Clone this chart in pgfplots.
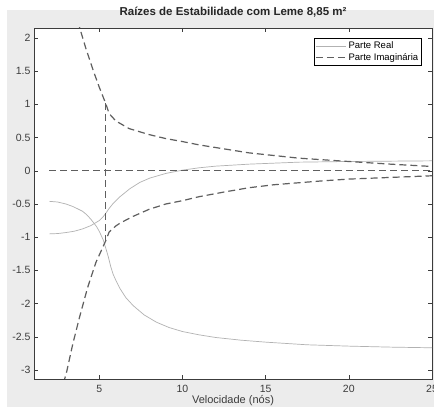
\documentclass[border=0pt]{standalone}
\usepackage{pgfplots}
\pgfplotsset{compat=1.18}
\usepackage{fontspec}
\setmainfont{Liberation Sans}

\definecolor{figbg}{RGB}{236,236,236}
\definecolor{realc}{RGB}{178,178,178}
\definecolor{imagc}{RGB}{95,95,95}
\definecolor{axc}{RGB}{60,60,60}

\begin{document}
\begin{tikzpicture}[x=1pt,y=1pt]
\useasboundingbox (0,0) rectangle (434,407);
\clip (0,0) rectangle (434,407);
\fill[white] (0,0) rectangle (434,407);
\fill[figbg] (7,0) rectangle (434,397);
\begin{axis}[
    at={(34pt,28pt)}, anchor=south west,
    scale only axis,
    width=398pt, height=351pt,
    xmin=1.08, xmax=25,
    ymin=-3.135, ymax=2.15,
    xtick={5,10,15,20,25},
    xticklabels={5,10,15,20,25},
    ytick={-3,-2.5,-2,-1.5,-1,-0.5,0,0.5,1,1.5,2},
    yticklabels={-3,-2.5,-2,-1.5,-1,-0.5,0,0.5,1,1.5,2},
    tick align=inside,
    major tick length=4pt,
    axis line style={axc, line width=0.6pt},
    every tick/.style={axc, line width=0.5pt},
    tick label style={font=\fontsize{10.5}{12}\selectfont, text=axc},
    x tick label style={yshift=-3pt},
    axis background/.style={fill=white},
    title={Raízes de Estabilidade com Leme 8,85 m²},
    title style={at={(0.5,1)}, anchor=center, yshift=10pt,
                 font=\bfseries\fontsize{11.5}{13}\selectfont, text=black!85},
    xlabel={Velocidade (nós)},
    xlabel style={at={(0.5,0)}, anchor=center, yshift=-22pt,
                  font=\fontsize{11}{13}\selectfont, text=axc},
    legend style={at={(0.975,0.9715)}, anchor=north east,
                  draw=black, line width=0.6pt, fill=white,
                  font=\fontsize{9.5}{11}\selectfont, inner sep=1.5pt,
                  row sep=-1pt},
    legend cell align=left,
    legend image code/.code={\draw[#1] (0pt,0pt) -- (30pt,0pt);},
]
% parte real
\addplot[realc, line width=0.7pt] coordinates {
 (2.0,-0.46) (2.5,-0.47) (3.0,-0.50) (3.44,-0.54) (4.0,-0.61) (4.24,-0.66)
 (4.5,-0.73) (4.84,-0.84) (5.0,-0.91) (5.24,-1.04) (5.4,-1.17) (5.54,-1.29)
 (5.7,-1.45) (5.84,-1.56) (6.0,-1.65) (6.24,-1.77) (6.6,-1.91) (7.04,-2.03)
 (7.7,-2.17) (8.44,-2.28) (9.2,-2.36) (10,-2.42) (11,-2.47) (12,-2.51)
 (13.5,-2.55) (15,-2.58) (17.5,-2.62) (20,-2.64) (22.5,-2.655) (25,-2.665)
};
\addlegendentry{Parte Real}
\addplot[realc, line width=0.7pt, forget plot] coordinates {
 (2.0,-0.95) (2.5,-0.945) (3.0,-0.93) (3.5,-0.91) (4.0,-0.875) (4.5,-0.825)
 (5.0,-0.75) (5.24,-0.69) (5.38,-0.645) (5.6,-0.565) (5.84,-0.49) (6.2,-0.40)
 (6.84,-0.27) (7.44,-0.175) (8.04,-0.11) (9.0,-0.04) (10,0.01) (11,0.045)
 (12,0.07) (14,0.10) (17,0.13) (20,0.14) (25,0.15)
};
% parte imaginaria
\addplot[imagc, line width=1.2pt, dash pattern=on 7pt off 4pt] coordinates {
 (3.72,2.25) (3.84,2.14) (4.2,1.84) (4.64,1.51) (5.0,1.26) (5.38,1.02)
 (5.6,0.86) (6.0,0.75) (6.8,0.635) (8.0,0.545) (9.0,0.485) (10,0.44)
 (11,0.39) (12.5,0.33) (14,0.27) (15.5,0.23) (17,0.19) (18.5,0.165)
 (20,0.14) (22.5,0.10) (25,0.065)
};
\addlegendentry{Parte Imaginária}
\addplot[imagc, line width=1.2pt, dash pattern=on 7pt off 4pt, forget plot] coordinates {
 (2.85,-3.2) (3.04,-3.03) (3.4,-2.62) (3.8,-2.22) (4.3,-1.76) (4.8,-1.38)
 (5.38,-1.06) (5.6,-0.92) (6.0,-0.83) (6.24,-0.79) (7.0,-0.69) (8.0,-0.58)
 (9.0,-0.50) (10,-0.45) (11,-0.39) (12.5,-0.32) (14,-0.255) (15.5,-0.21)
 (17,-0.18) (18.5,-0.15) (20,-0.125) (22.5,-0.10) (25,-0.075)
};
\addplot[imagc, line width=1.2pt, dash pattern=on 7pt off 4pt, forget plot] coordinates {
 (2.0,0) (25,0)
};
\addplot[imagc, line width=1.2pt, dash pattern=on 7pt off 4pt, forget plot] coordinates {
 (5.38,1.02) (5.38,-1.06)
};
\end{axis}
\end{tikzpicture}
\end{document}
